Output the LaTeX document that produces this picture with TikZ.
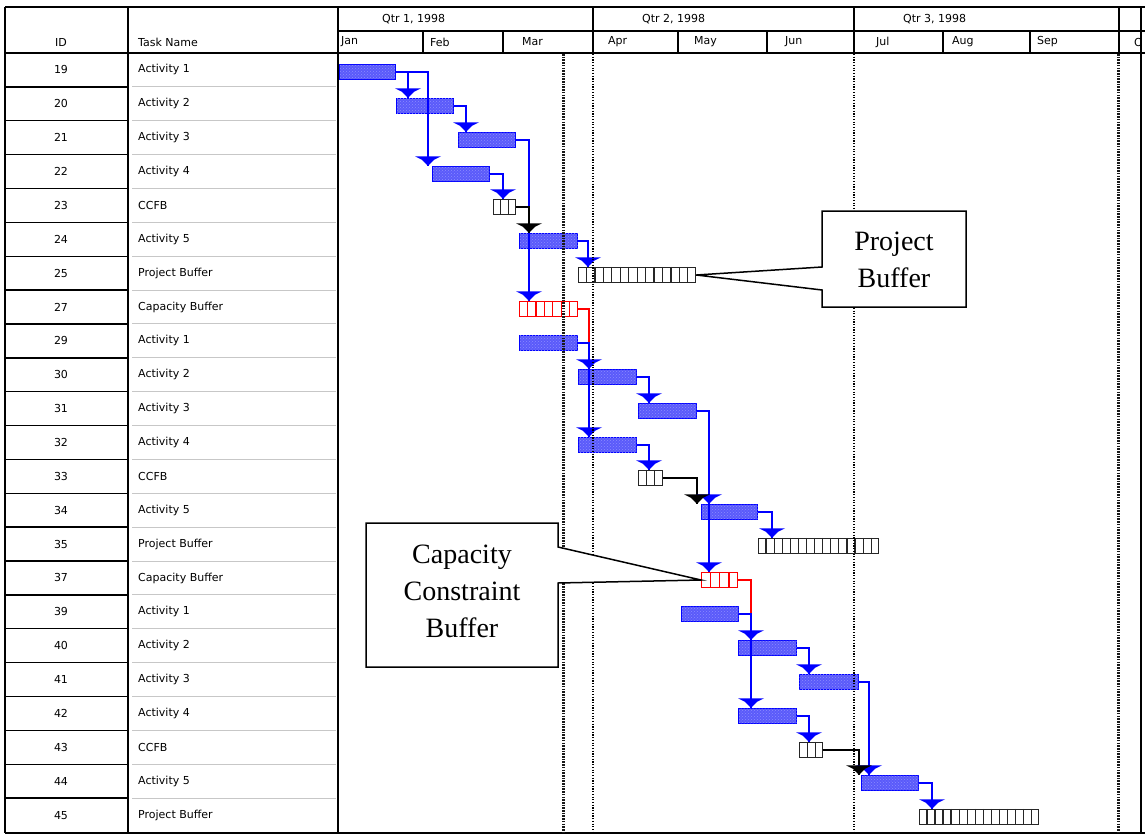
\documentclass[tikz,border=0pt]{standalone}
\usepackage{fontspec}
\setmainfont{Liberation Serif}
\newfontfamily\tabfont{DejaVu Sans}
\usetikzlibrary{calc,patterns}
\definecolor{barblue}{RGB}{90,90,250}
\newcommand{\ahd}[2][blue]{\fill[#1] (#2) ++(-13,-9.5) -- ++(26,0) -- ++(-7,3.5) -- ++(-6,6) -- ++(-6,-6) -- cycle;}
\newcommand{\cells}[3][black!85]{\pgfmathtruncatemacro\cm{#3-1}\foreach \k in {1,...,\cm}{\draw[#1,line width=1.2pt] ($(#2.north west)!{\k/#3}!(#2.north east)$) -- ($(#2.south west)!{\k/#3}!(#2.south east)$);}}
\begin{document}
\begin{tikzpicture}[x=1pt,y=-1pt,
  grid/.style={line width=1.4pt,black},
  gridg/.style={line width=1pt,black!22},
  lbl/.style={font=\tabfont\fontsize{11}{13}\selectfont,inner sep=0},
  task/.style={draw=blue,line width=1.3pt,fill=barblue,postaction={pattern=crosshatch dots,pattern color=white!55!blue},minimum height=15pt,inner sep=0,anchor=west},
  buf/.style={draw=black!85,line width=1.3pt,fill=white,minimum height=15pt,inner sep=0,anchor=west},
  rbuf/.style={buf,draw=red},
  lnk/.style={blue,line width=1.4pt},
  blk/.style={black,line width=1.4pt},
  rlnk/.style={red,line width=1.4pt},
  callout/.style={draw=black,line width=1.5pt,fill=white,line join=miter},
  ctext/.style={font=\fontsize{28}{37}\selectfont,align=center,inner sep=0},
  thickdot/.style={line width=3pt,black!90,dash pattern=on 1.6pt off 1.1pt},
  thindot/.style={line width=1.2pt,dash pattern=on 1.2pt off 1.5pt},
]
\useasboundingbox (0,0) rectangle (1145,835);
\fill[white] (0,0) rectangle (1145,835);

% ---- table grid ----
\foreach \k in {1,...,22}{
  \pgfmathsetmacro\yy{53+33.87*\k}
  \draw[grid] (5,\yy) -- (128,\yy);
  \draw[gridg] (132,\yy) -- (336,\yy);
}
\draw[grid] (5,7) -- (1145,7);
\draw[grid] (5,833) -- (1145,833);
\draw[grid] (5,7) -- (5,833);
\draw[grid] (1141,7) -- (1141,833);
\draw[grid] (128,7) -- (128,833);
\draw[grid] (338,7) -- (338,833);
\draw[grid] (5,53) -- (1145,53);
\draw[grid] (338,31) -- (1145,31);
\foreach \x in {593,854,1119}{\draw[grid] (\x,7) -- (\x,53);}
\foreach \x in {423,503,678,767,943,1030}{\draw[grid] (\x,31) -- (\x,53);}

% ---- header text ----
\node[lbl] (hid) at (61,42) {ID};
\node[lbl,anchor=west] (htn) at (138,42) {Task Name};
\node[lbl,anchor=west] (q1) at (382,19) {Qtr 1, 1998};
\node[lbl,anchor=west] (q2) at (642,19) {Qtr 2, 1998};
\node[lbl,anchor=west] (q3) at (903,19) {Qtr 3, 1998};
\foreach \m/\x in {Jan/341,Feb/430,Mar/522,Apr/608,May/694,Jun/785,Jul/876,Aug/952,Sep/1037}{
  \node[lbl,anchor=west] (m\m) at (\x,42) {\m};
}
\begin{scope}
\clip (1120,31) rectangle (1140,53);
\node[lbl,anchor=west] (mOct) at (1134,42) {Oct};
\end{scope}

% ---- rows ----
\foreach \id/\nm [count=\i from 0] in {19/Activity 1,20/Activity 2,21/Activity 3,22/Activity 4,23/CCFB,24/Activity 5,25/Project Buffer,27/Capacity Buffer,29/Activity 1,30/Activity 2,31/Activity 3,32/Activity 4,33/CCFB,34/Activity 5,35/Project Buffer,37/Capacity Buffer,39/Activity 1,40/Activity 2,41/Activity 3,42/Activity 4,43/CCFB,44/Activity 5,45/Project Buffer}{
  \pgfmathsetmacro\yy{53+33.87*(\i+0.5)}
  \node[lbl] (id\id) at (61,\yy) {\id};
  \node[lbl,anchor=west] (tn\id) at (138,\yy) {\nm};
}

% ---- bars ----
\node[task,minimum width={395-339}] (b19) at (339,72) {};
\node[task,minimum width={453-396}] (b20) at (396,106) {};
\node[task,minimum width={515-458}] (b21) at (458,140) {};
\node[task,minimum width={489-432}] (b22) at (432,174) {};
\node[buf,minimum width={515-493}] (b23) at (493,207) {};
\node[task,minimum width={577-519}] (b24) at (519,241) {};
\node[buf,minimum width={695-578}] (b25) at (578,275) {};
\node[rbuf,minimum width={577-519}] (b27) at (519,309) {};
\node[task,minimum width={577-519}] (b29) at (519,343) {};
\node[task,minimum width={636-578}] (b30) at (578,377) {};
\node[task,minimum width={696-638}] (b31) at (638,411) {};
\node[task,minimum width={636-578}] (b32) at (578,445) {};
\node[buf,minimum width={662-638}] (b33) at (638,478) {};
\node[task,minimum width={757-701}] (b34) at (701,512) {};
\node[buf,minimum width={878-758}] (b35) at (758,546) {};
\node[rbuf,minimum width={737-701}] (b37) at (701,580) {};
\node[task,minimum width={738-681}] (b39) at (681,614) {};
\node[task,minimum width={796-738}] (b40) at (738,648) {};
\node[task,minimum width={858-799}] (b41) at (799,682) {};
\node[task,minimum width={796-738}] (b42) at (738,716) {};
\node[buf,minimum width={822-799}] (b43) at (799,750) {};
\node[task,minimum width={918-861}] (b44) at (861,783) {};
\node[buf,minimum width={1038-919}] (b45) at (919,817) {};
\cells{b23}{3}
\cells{b25}{14}
\cells[red]{b27}{7}
\cells{b33}{3}
\cells{b35}{15}
\cells[red]{b37}{4}
\cells{b43}{3}
\cells{b45}{15}

% ---- arrow tip coordinates ----
\coordinate (t20) at ($(b20.north west)+(12,0)$);
\coordinate (t22) at ($(b22.north west)+(-4,0)$);
\coordinate (t21) at ($(b21.north west)+(8,0)$);
\coordinate (t27) at ($(b27.north west)+(10,0)$);
\coordinate (t23) at ($(b23.north west)+(10,0)$);
\coordinate (t24) at ($(b24.north west)+(10,0)$);
\coordinate (t25) at ($(b25.north west)+(10,0)$);
\coordinate (t30) at ($(b30.north west)+(11,0)$);
\coordinate (t32) at ($(b32.north west)+(11,0)$);
\coordinate (t31) at ($(b31.north west)+(11,0)$);
\coordinate (t34) at ($(b34.north west)+(8,0)$);
\coordinate (k34) at ($(b34.north west)+(-4,0)$);
\coordinate (t37) at ($(b37.north west)+(8,0)$);
\coordinate (t33) at ($(b33.north west)+(11,0)$);
\coordinate (t35) at ($(b35.north west)+(14,0)$);
\coordinate (t40) at ($(b40.north west)+(13,0)$);
\coordinate (t42) at ($(b42.north west)+(13,0)$);
\coordinate (t41) at ($(b41.north west)+(10,0)$);
\coordinate (t44) at ($(b44.north west)+(8,0)$);
\coordinate (k44) at ($(b44.north west)+(-2,0)$);
\coordinate (t43) at ($(b43.north west)+(10,0)$);
\coordinate (t45) at ($(b45.north west)+(13,0)$);

% ---- connectors ----
\draw[lnk] (b19.east) -| (t20);
\draw[lnk] (b19.east) -| (t22);
\draw[lnk] (b20.east) -| (t21);
\draw[lnk] (b21.east) -| (t27);
\draw[lnk] (b22.east) -| (t23);
\draw[blk] (b23.east) -| (t24);
\draw[lnk] (b24.east) -| (t25);
\draw[rlnk] (b27.east) -| (t30 |- b29.east);
\draw[lnk] (b29.east) -| (t30);
\draw[lnk] (b29.east) -| (t32);
\draw[lnk] (b30.east) -| (t31);
\draw[lnk] (b31.east) -| (t37);
\draw[lnk] (b32.east) -| (t33);
\draw[blk] (b33.east) -| (k34);
\draw[lnk] (b34.east) -| (t35);
\draw[rlnk] (b37.east) -| (t40 |- b39.east);
\draw[lnk] (b39.east) -| (t40);
\draw[lnk] (b39.east) -| (t42);
\draw[lnk] (b40.east) -| (t41);
\draw[lnk] (b41.east) -| (t44);
\draw[lnk] (b42.east) -| (t43);
\draw[blk] (b43.east) -| (k44);
\draw[lnk] (b44.east) -| (t45);

% ---- arrowheads ----
\ahd{t20}\ahd{t22}\ahd{t21}\ahd{t27}\ahd{t23}\ahd[black]{t24}\ahd{t25}
\ahd{t30}\ahd{t32}\ahd{t31}\ahd{t34}\ahd[black]{k34}\ahd{t37}\ahd{t33}\ahd{t35}
\ahd{t40}\ahd{t42}\ahd{t41}\ahd{t44}\ahd[black]{k44}\ahd{t43}\ahd{t45}

% ---- dotted time lines ----
\draw[thickdot] (563,54) -- (563,832);
\draw[thickdot] (1118,54) -- (1118,832);
\draw[thindot] (593,54) -- (593,832);
\draw[thindot] (854,54) -- (854,832);

% ---- callouts ----
\draw[callout] (822,211) -- (966,211) -- (966,307) -- (822,307) -- (822,290) -- (b25.east) -- (822,267) -- cycle;
\node[ctext] (pbtext) at (894,260) {Project\\Buffer};
\draw[callout] (366,523) -- (558,523) -- (558,547) -- (b37.west) -- (558,583) -- (558,667) -- (366,667) -- cycle;
\node[ctext] (cbtext) at (462,591) {Capacity\\Constraint\\Buffer};
\end{tikzpicture}
\end{document}
